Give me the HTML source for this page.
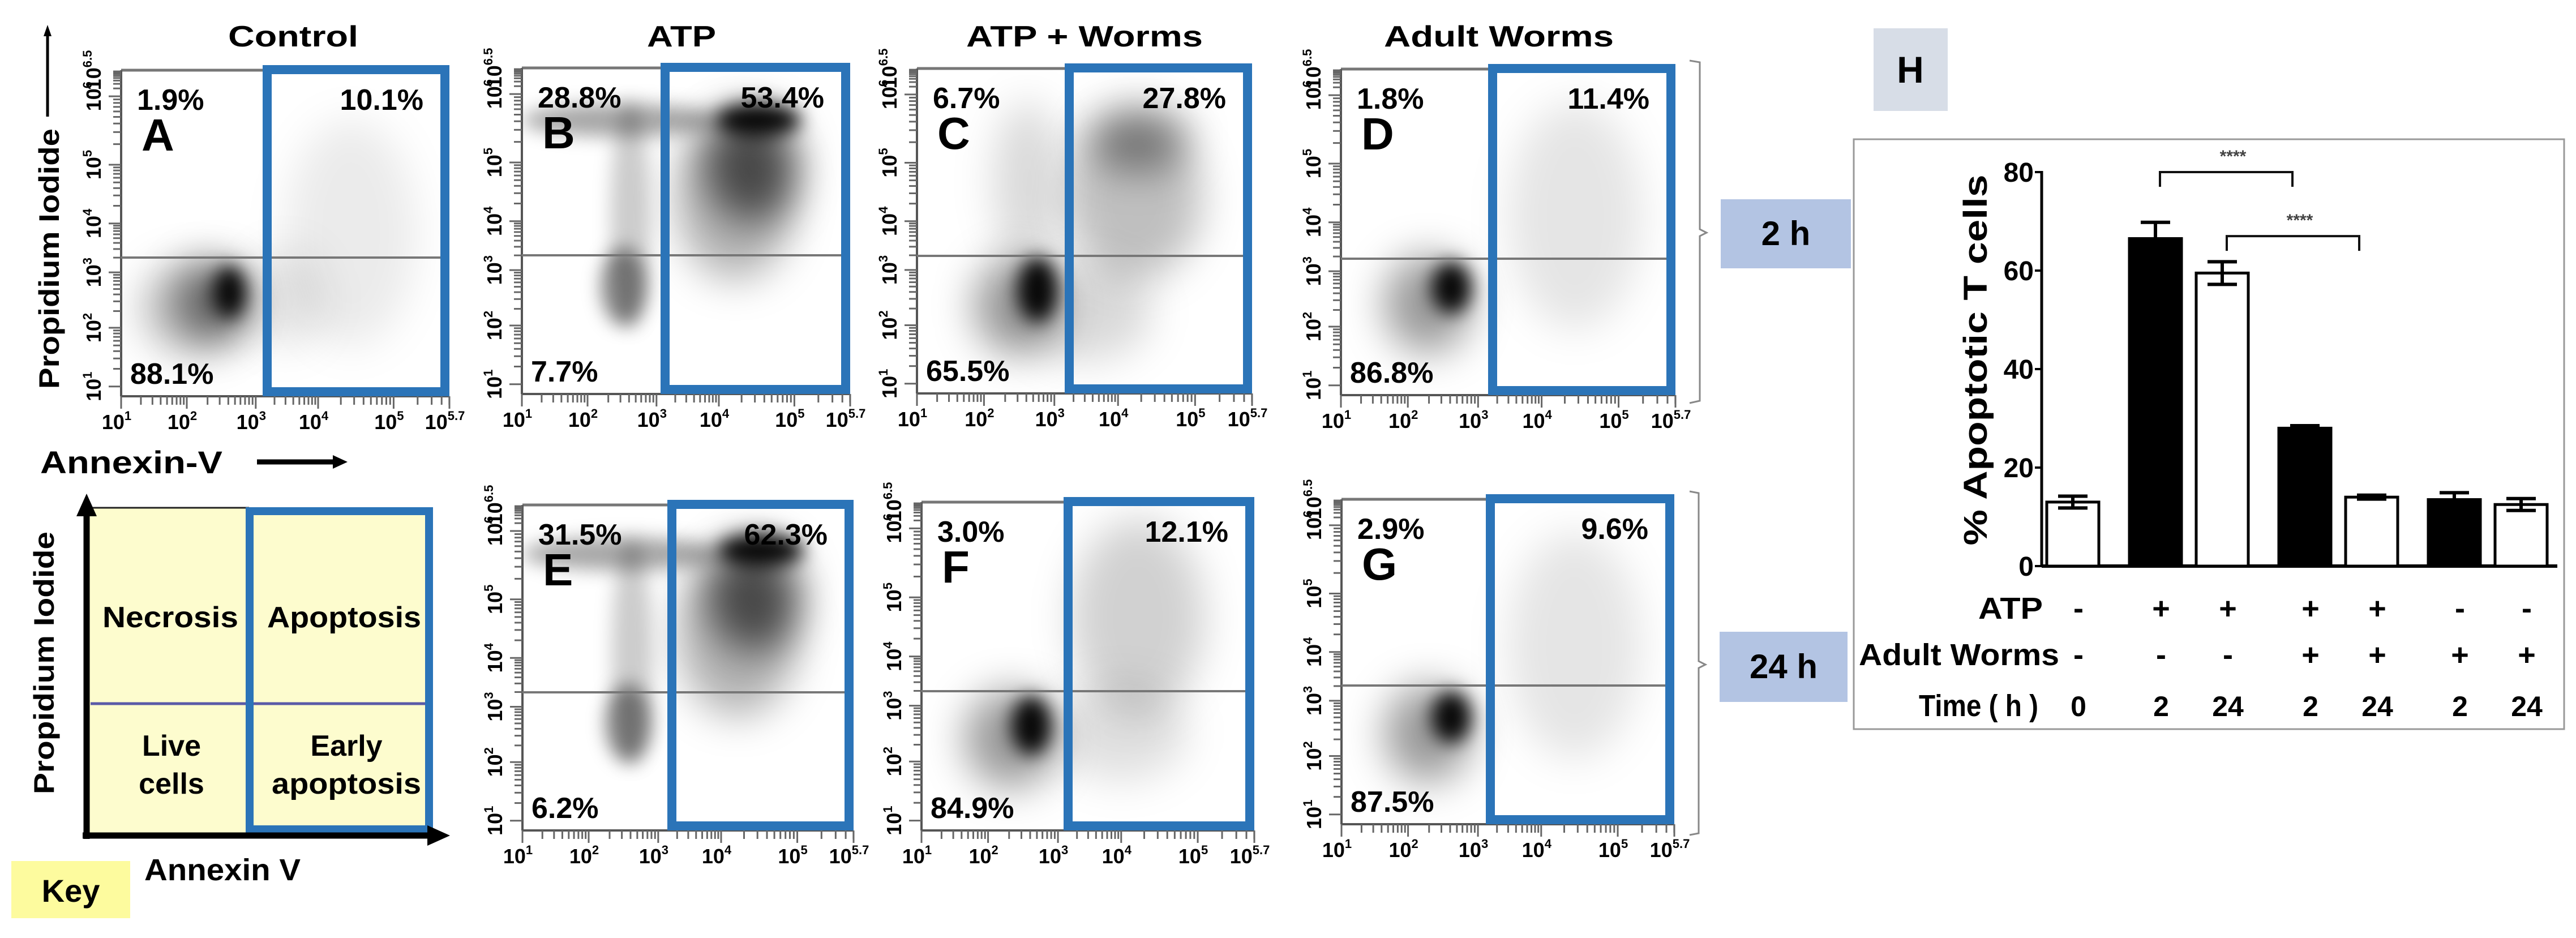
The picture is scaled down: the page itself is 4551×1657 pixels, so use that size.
<!DOCTYPE html>
<html><head><meta charset="utf-8">
<style>
html,body{margin:0;padding:0;background:#fff;}
svg{display:block;font-family:"Liberation Sans",Arial,sans-serif;}
.b{font-weight:bold;}
</style></head>
<body>
<svg id="fig" width="4551" height="1657" viewBox="0 0 4551 1657" xmlns="http://www.w3.org/2000/svg">
<defs>
  <filter id="blur1" filterUnits="userSpaceOnUse" x="0" y="0" width="4551" height="1657"><feGaussianBlur stdDeviation="16"/></filter>
  <filter id="blur2" filterUnits="userSpaceOnUse" x="0" y="0" width="4551" height="1657"><feGaussianBlur stdDeviation="35"/></filter>
</defs>
<rect x="0" y="0" width="4551" height="1657" fill="#fff"/>

<text class="b" x="518" y="82" font-size="52" text-anchor="middle" textLength="230" lengthAdjust="spacingAndGlyphs">Control</text>
<text class="b" x="1204" y="82" font-size="52" text-anchor="middle" textLength="122" lengthAdjust="spacingAndGlyphs">ATP</text>
<text class="b" x="1916" y="82" font-size="52" text-anchor="middle" textLength="418" lengthAdjust="spacingAndGlyphs">ATP + Worms</text>
<text class="b" x="2648" y="82" font-size="52" text-anchor="middle" textLength="406" lengthAdjust="spacingAndGlyphs">Adult Worms</text>

<g>
  <text class="b" transform="translate(104,457) rotate(-90)" font-size="50" text-anchor="middle" textLength="460" lengthAdjust="spacingAndGlyphs">Propidium Iodide</text>
  <line x1="84" y1="206" x2="84" y2="60" stroke="#000" stroke-width="5"/>
  <polygon points="84,44 77,64 91,64" fill="#000"/>
</g>
<g>
  <text class="b" x="71" y="836" font-size="56" textLength="322" lengthAdjust="spacingAndGlyphs">Annexin-V</text>
  <line x1="454" y1="816" x2="592" y2="816" stroke="#000" stroke-width="9"/>
  <polygon points="614,816 588,804 588,828" fill="#000"/>
</g>

<g>
  <rect x="153" y="897" width="612" height="574" fill="#fdfcce"/>
  <line x1="153" y1="897" x2="440" y2="897" stroke="#222" stroke-width="3"/>
  <line x1="160" y1="1243" x2="760" y2="1243" stroke="#5a5aa8" stroke-width="5"/>
  <rect x="441" y="903" width="317" height="562" fill="none" stroke="#2b74b8" stroke-width="14"/>
  <line x1="153" y1="1482" x2="153" y2="905" stroke="#000" stroke-width="11"/>
  <polygon points="153,872 135,912 171,912" fill="#000"/>
  <line x1="146" y1="1476" x2="760" y2="1476" stroke="#000" stroke-width="11"/>
  <polygon points="795,1476 755,1458 755,1494" fill="#000"/>
  <text class="b" x="301" y="1108" font-size="52" text-anchor="middle" textLength="240" lengthAdjust="spacingAndGlyphs">Necrosis</text>
  <text class="b" x="608" y="1108" font-size="52" text-anchor="middle" textLength="272" lengthAdjust="spacingAndGlyphs">Apoptosis</text>
  <text class="b" x="303" y="1335" font-size="52" text-anchor="middle">Live</text>
  <text class="b" x="303" y="1402" font-size="52" text-anchor="middle">cells</text>
  <text class="b" x="612" y="1335" font-size="52" text-anchor="middle">Early</text>
  <text class="b" x="612" y="1402" font-size="52" text-anchor="middle" textLength="264" lengthAdjust="spacingAndGlyphs">apoptosis</text>
  <text class="b" transform="translate(95,1171) rotate(-90)" font-size="50" text-anchor="middle" textLength="464" lengthAdjust="spacingAndGlyphs">Propidium Iodide</text>
  <text class="b" x="255" y="1555" font-size="54" textLength="276" lengthAdjust="spacingAndGlyphs">Annexin V</text>
  <rect x="20" y="1521" width="210" height="101" fill="#fdfb9e"/>
  <text class="b" x="125" y="1593" font-size="56" text-anchor="middle">Key</text>
</g>

<g>
  <path d="M2985,107 L3003,110 L3003,405 L3015,411 L3003,417 L3003,708 L2985,712" fill="none" stroke="#888" stroke-width="3"/>
  <rect x="3040" y="352" width="230" height="122" fill="#b3c4e3"/>
  <text class="b" x="3155" y="433" font-size="60" text-anchor="middle">2 h</text>
</g>
<g>
  <path d="M2985,868 L3001,871 L3001,1168 L3013,1174 L3001,1180 L3001,1472 L2985,1475" fill="none" stroke="#888" stroke-width="3"/>
  <rect x="3038" y="1116" width="226" height="124" fill="#b3c4e3"/>
  <text class="b" x="3151" y="1198" font-size="60" text-anchor="middle">24 h</text>
</g>

<g id="flow"></g>

<rect x="3310" y="50" width="131" height="146" fill="#d7dde7"/>
<text class="b" x="3375" y="146" font-size="66" text-anchor="middle">H</text>
<rect x="3275" y="246" width="1255" height="1042" fill="#fff" stroke="#999" stroke-width="3"/>
<g id="bars"></g>
</svg>

<script>
const panelLetters = ['A','B','C','D','E','F','G'];
const pctUL = ['1.9%','28.8%','6.7%','1.8%','31.5%','3.0%','2.9%'];
const pctUR = ['10.1%','53.4%','27.8%','11.4%','62.3%','12.1%','9.6%'];
const pctLL = ['88.1%','7.7%','65.5%','86.8%','6.2%','84.9%','87.5%'];
const clustersA = [[0.22,0.73,0.16,0.14,0.25],[0.28,0.71,0.11,0.12,0.5],[0.33,0.68,0.05,0.08,0.95],[0.7,0.5,0.2,0.35,0.08],[0.5,0.7,0.12,0.15,0.1]];
const clustersB = [[0.3,0.16,0.3,0.05,0.35],[0.65,0.4,0.18,0.25,0.3],[0.7,0.3,0.14,0.17,0.6],[0.72,0.16,0.13,0.05,0.95],[0.33,0.45,0.06,0.35,0.2],[0.31,0.67,0.07,0.12,0.45]];
const clustersC = [[0.33,0.35,0.1,0.25,0.15],[0.5,0.75,0.2,0.15,0.15],[0.65,0.4,0.2,0.25,0.25],[0.66,0.22,0.15,0.1,0.4],[0.3,0.73,0.13,0.15,0.4],[0.36,0.68,0.06,0.1,0.95]];
const clustersD = [[0.7,0.45,0.2,0.35,0.1],[0.26,0.72,0.13,0.15,0.4],[0.33,0.67,0.06,0.08,0.95]];
const clustersE = [[0.3,0.15,0.3,0.05,0.35],[0.65,0.4,0.18,0.25,0.3],[0.7,0.28,0.14,0.17,0.6],[0.72,0.14,0.13,0.05,0.95],[0.33,0.45,0.06,0.35,0.2],[0.32,0.67,0.07,0.12,0.45]];
const clustersF = [[0.6,0.7,0.2,0.15,0.12],[0.65,0.35,0.2,0.3,0.18],[0.27,0.72,0.14,0.15,0.4],[0.33,0.68,0.06,0.09,0.95]];
const clustersG = [[0.7,0.45,0.2,0.35,0.1],[0.26,0.72,0.13,0.15,0.4],[0.33,0.67,0.06,0.08,0.95]];
const allClusters = [clustersA,clustersB,clustersC,clustersD,clustersE,clustersF,clustersG];
const xTickExp = ['1','2','3','4','5','5.7'];
const yTickExp = ['6.5','6','5','4','3','2','1'];

const geo = [
  {l:214,t:124,r:794,b:700,bl:464,h:455},
  {l:922,t:120,r:1502,b:696,bl:1167,h:451},
  {l:1620,t:121,r:2212,b:695,bl:1881,h:452},
  {l:2369,t:122,r:2960,b:698,bl:2629,h:457},
  {l:923,t:892,r:1508,b:1467,bl:1179,h:1223},
  {l:1628,t:887,r:2216,b:1467,bl:1879,h:1221},
  {l:2370,t:882,r:2958,b:1456,bl:2625,h:1211}
];
const NS='http://www.w3.org/2000/svg';
function mk(tag, attrs, parent){const e=document.createElementNS(NS,tag);for(const k in attrs)e.setAttribute(k,attrs[k]);parent.appendChild(e);return e;}
const flow=document.getElementById('flow');
const xTickFrac=[0,0.2,0.41,0.6,0.83,1.0];
const yTickFrac=[0,0.08,0.29,0.47,0.62,0.79,0.97];

geo.forEach((g,i)=>{
  const grp=mk('g',{},flow);
  
  
  const W=g.r-g.l, H=g.b-g.t;
  const cid='clip'+i;
  const cp=mk('clipPath',{id:cid},grp); mk('rect',{x:g.l,y:g.t,width:W,height:H},cp);
  const dens=mk('g',{'clip-path':'url(#'+cid+')'},grp);
  allClusters[i].forEach((c,j)=>{
    const small=Math.min(c[2],c[3])<0.1;
    const e=mk('ellipse',{cx:g.l+c[0]*W,cy:g.t+c[1]*H,rx:c[2]*W,ry:c[3]*H,fill:'#000','fill-opacity':c[4],filter:(small?'url(#blur1)':'url(#blur2)')},dens);
    
    
  });
  mk('line',{x1:g.l,y1:g.t,x2:g.bl,y2:g.t,stroke:'#777','stroke-width':5},grp);
  mk('line',{x1:g.l,y1:g.t,x2:g.l,y2:g.b,stroke:'#555','stroke-width':4},grp);
  mk('line',{x1:g.l,y1:g.b,x2:g.r,y2:g.b,stroke:'#555','stroke-width':4},grp);
  const hl=mk('line',{x1:g.l,y1:g.h,x2:g.r-8,y2:g.h,stroke:'#777','stroke-width':4},grp);
  
  
  for(let d=0; d<xTickFrac.length-1; d++){
    const a=xTickFrac[d]*W, bb=xTickFrac[d+1]*W;
    for(let k=1;k<10;k++){const fx=Math.log10(k); if(d==4&&fx>0.7)break; const x=g.l+a+(bb-a)*fx/(d==4?0.7:1);
      mk('line',{x1:x,y1:g.b,x2:x,y2:g.b+(k==1?22:15),stroke:'#666','stroke-width':3},grp);}
  }
  mk('line',{x1:g.r,y1:g.b,x2:g.r,y2:g.b+22,stroke:'#666','stroke-width':3},grp);
  for(let d=yTickFrac.length-1; d>0; d--){
    const a=yTickFrac[d]*H, bb=yTickFrac[d-1]*H;
    for(let k=1;k<10;k++){const y=g.t+a-(a-bb)*Math.log10(k);
      mk('line',{x1:g.l-(k==1?22:14),y1:y,x2:g.l,y2:y,stroke:'#666','stroke-width':3},grp);}
  }
  xTickExp.forEach((ex,k)=>{
    const t=mk('text',{x:g.l+xTickFrac[k]*W-8,y:g.b+58,'font-size':36,'text-anchor':'middle','font-weight':'bold'},grp);
    
    
    t.textContent='10';
    const s=mk('tspan',{'font-size':22,dy:-16},t); s.textContent=ex;
  });
  yTickExp.forEach((ex,k)=>{
    const y=g.t+yTickFrac[k]*H;
    const t=mk('text',{transform:'translate('+(g.l-36)+','+y+') rotate(-90)','font-size':36,'text-anchor':'middle','font-weight':'bold'},grp);
    
    
    t.textContent='10';
    const s=mk('tspan',{'font-size':22,dy:-16},t); s.textContent=ex;
  });
  const gate=mk('rect',{x:g.bl+8,y:g.t-1,width:g.r-g.bl-16,height:H-7,fill:'none',stroke:'#2b74b8','stroke-width':16},grp);
  
  
  const tl=mk('text',{x:g.l+28,y:g.t+70,'font-size':52,'font-weight':'bold'},grp); tl.textContent=pctUL[i];
  
  
  const tr=mk('text',{x:g.r-46,y:g.t+70,'font-size':52,'font-weight':'bold','text-anchor':'end'},grp); tr.textContent=pctUR[i];
  
  
  const ll=mk('text',{x:g.l+16,y:g.b-22,'font-size':52,'font-weight':'bold'},grp); ll.textContent=pctLL[i];
  
  
  const lt=mk('text',{x:g.l+36,y:g.t+142,'font-size':80,'font-weight':'bold'},grp); lt.textContent=panelLetters[i];
  
  
});

const barValues = [13, 66.5, 59.5, 28, 14, 13.5, 12.5];
const barErrors = [1.2, 3.3, 2.3, 0.5, 0.4, 1.4, 1.2];
const barFilled = [false, true, false, true, false, true, false];
const rowATP = ['-','+','+','+','+','-','-'];
const rowWorms = ['-','-','-','+','+','+','+'];
const rowTime = ['0','2','24','2','24','2','24'];
const yTicks = [0,20,40,60,80];
const sigFrom = [1,2], sigTo = [3,4], sigLevel = [80,67], sigText=['****','****'];

const bars=document.getElementById('bars');
const axX=3607, y0=1000, pxPerUnit=8.7, barW=92;
const yS=v=>y0-v*pxPerUnit;
const xS=i=>3662+118*i+28*Math.ceil(i/2);

mk('line',{x1:axX,y1:yS(80)-2,x2:axX,y2:y0+2,stroke:'#000','stroke-width':5},bars);
const xax=mk('line',{x1:axX,y1:y0,x2:4518,y2:y0,stroke:'#000','stroke-width':6},bars);


yTicks.forEach(v=>{
  mk('line',{x1:axX-12,y1:yS(v),x2:axX,y2:yS(v),stroke:'#000','stroke-width':4},bars);
  const t=mk('text',{x:axX-14,y:yS(v)+17,'font-size':48,'font-weight':'bold','text-anchor':'end'},bars);
  
  
  t.textContent=v;
});
const yt=mk('text',{transform:'translate(3510,636) rotate(-90)','font-size':58,'font-weight':'bold','text-anchor':'middle',textLength:655,lengthAdjust:'spacingAndGlyphs'},bars);


yt.textContent='% Apoptotic T cells';

barValues.forEach((v,i)=>{
  const cx=xS(i);
  const r=mk('rect',{x:cx-barW/2,y:yS(v),width:barW,height:y0-yS(v),fill:barFilled[i]?'#000':'#fff',stroke:'#000','stroke-width':5},bars);
  
  
  const e=barErrors[i];
  const eb=mk('path',{d:'M'+cx+','+yS(v+e)+' L'+cx+','+yS(v-e)+' M'+(cx-26)+','+yS(v+e)+' L'+(cx+26)+','+yS(v+e)+' M'+(cx-26)+','+yS(v-e)+' L'+(cx+26)+','+yS(v-e),stroke:'#000','stroke-width':6,fill:'none'},bars);
  
  
  [[rowATP,1093],[rowWorms,1175],[rowTime,1265]].forEach(([row,yy])=>{
    const t=mk('text',{x:cx+10,y:yy,'font-size':row===rowTime?50:54,'font-weight':'bold','text-anchor':'middle'},bars);
    
    
    t.textContent=row[i];
  });
});
sigFrom.forEach((f,k)=>{
  const x1=xS(f)+8, x2=xS(sigTo[k])-22, y=yS(sigLevel[k]);
  const p=mk('path',{d:'M'+x1+','+(y+26)+' L'+x1+','+y+' L'+x2+','+y+' L'+x2+','+(y+26),stroke:'#111','stroke-width':4,fill:'none'},bars);
  
  
  const t=mk('text',{x:(x1+x2)/2+12,y:y-18,'font-size':30,'font-weight':'bold','text-anchor':'middle',fill:'#444'},bars);
  
  
  t.textContent=sigText[k];
});
[['ATP',3609,1093,114],['Adult Worms',3638,1175,354],['Time ( h )',3601,1265,211]].forEach(([s,x,y,w])=>{
  const t=mk('text',{x:x,y:y,'font-size':54,'font-weight':'bold','text-anchor':'end',textLength:w,lengthAdjust:'spacingAndGlyphs'},bars);
  
  
  t.textContent=s;
});
</script>
</body></html>
